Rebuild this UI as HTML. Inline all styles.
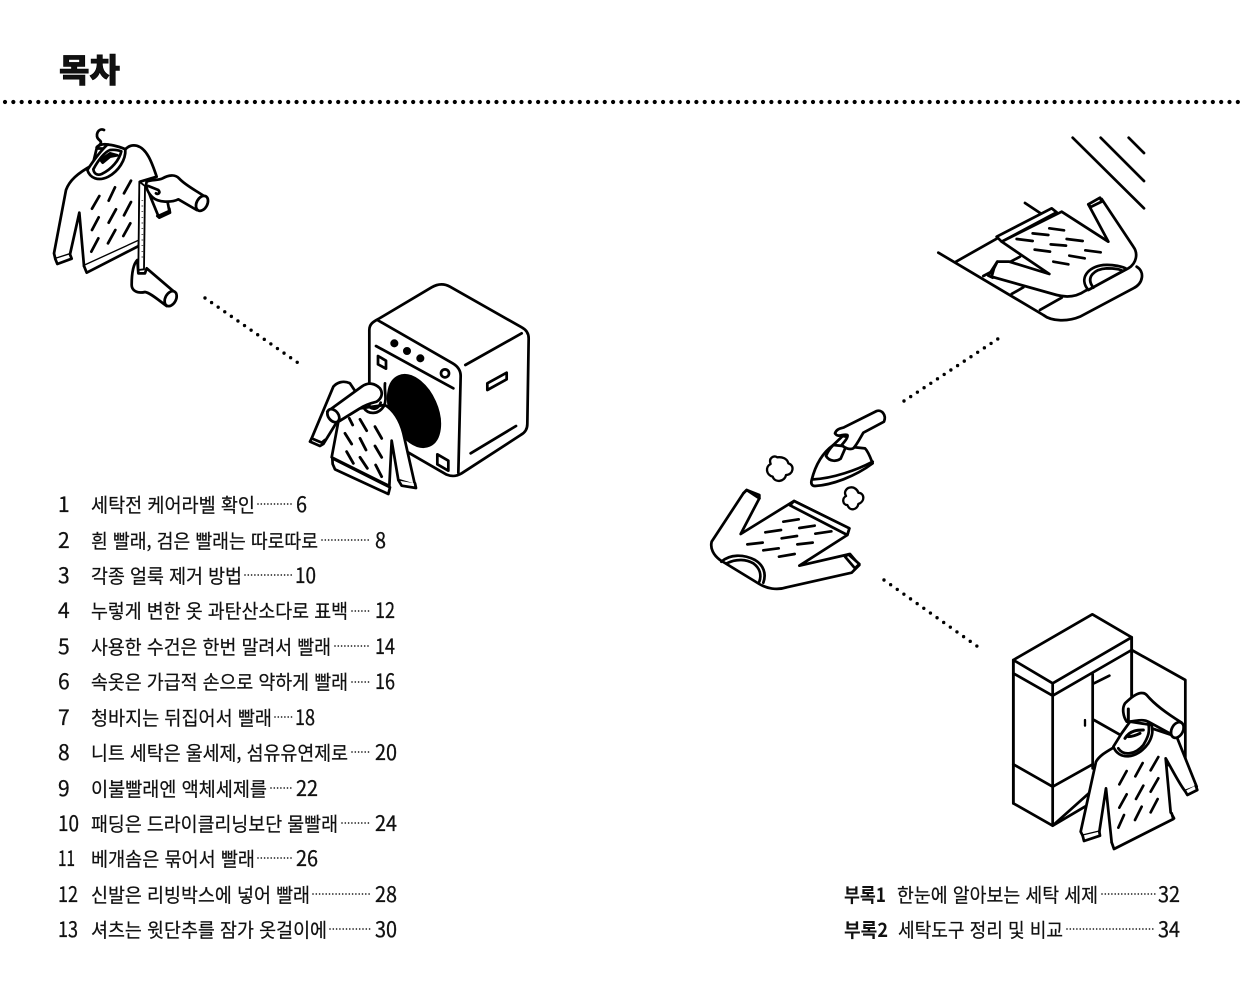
<!DOCTYPE html>
<html lang="ko"><head><meta charset="utf-8"><title>목차</title>
<style>
html,body{margin:0;padding:0;background:#fff}
svg{display:block}
text{fill:#111}
.t{font-family:"Noto Sans CJK KR","NanumGothic",sans-serif;font-size:19.5px;font-weight:400;stroke:#111;stroke-width:.22}
.n{font-family:"Noto Sans CJK KR","NanumGothic",sans-serif;font-size:21px;font-weight:400;stroke:#111;stroke-width:.3}
.b{font-family:"Noto Sans CJK KR","NanumGothic",sans-serif;font-size:19.5px;font-weight:700}
.l{stroke:#222;stroke-width:1.7;stroke-linecap:round;stroke-dasharray:0 3.3;fill:none}
.d{stroke:#000;stroke-linecap:round;fill:none}
.i{fill:none;stroke:#000;stroke-width:8.2;stroke-linejoin:round;stroke-linecap:round}
.w{fill:#fff}
.k{fill:#000}
</style></head><body>
<svg width="1240" height="998" viewBox="0 0 1240 998" xmlns="http://www.w3.org/2000/svg">
<rect width="1240" height="998" fill="#fff"/>
<text x="59" y="82" font-size="33" font-weight="900" textLength="61" lengthAdjust="spacingAndGlyphs" style="font-family:'Noto Sans CJK KR',sans-serif;font-weight:900;stroke:#000;stroke-width:.6">목차</text>
<line class="d" x1="5" y1="102" x2="1240" y2="102" stroke-width="4.2" stroke-dasharray="0 8.33"/>
<line class="d" x1="205" y1="298" x2="297.5" y2="362.5" stroke-width="3.4" stroke-dasharray="0 8.03"/>
<line class="d" x1="904" y1="401" x2="998.5" y2="338.5" stroke-width="3.4" stroke-dasharray="0 8.03"/>
<line class="d" x1="884" y1="580" x2="977.5" y2="646.5" stroke-width="3.4" stroke-dasharray="0 8.14"/>

<!-- 1: sweater + measuring hands -->
<g transform="translate(30 110) scale(.33333)" class="i">
<path d="M222 60C205 52 192 78 208 90C216 96 214 102 202 110"/>
<path class="w" d="M380 200C365 155 350 115 320 107C305 104 295 108 286 118L200 115L188 165C142 190 118 212 108 240L72 430L76 447L120 433L148 308L162 468L328 392L330 215Z"/>
<path d="M200 112C215 98 240 100 275 120"/>
<path class="w" d="M76 447L82 462L125 446L120 433"/>
<path class="w" d="M162 468L170 488L326 408L328 392"/>
<path class="w" d="M172 180C180 205 205 215 235 200C265 184 288 150 286 118C275 112 245 104 232 104C215 120 195 145 172 180Z"/>
<path d="M190 178C205 150 225 125 240 120C255 118 270 122 274 124C268 150 245 178 215 192C200 198 192 190 190 178Z"/>
<path class="k" d="M212 150L240 130L262 136L240 140L218 158Z"/>
<path d="M208 258L186 296M255 232L236 272M303 212L282 250M206 322L186 360M258 298L236 338M303 276L282 316M205 385L184 425M256 360L234 400M301 340L280 378"/>
<path class="w" d="M350 230L362 262L385 318L418 303L412 272"/>
<path d="M382 318L388 323L420 308L418 296"/>
<path class="w" d="M328 215L345 228L342 478L325 480Z" stroke-width="5.5"/>
<path d="M337 270V450" stroke-width="5" stroke-dasharray="2 15" stroke-linecap="butt"/>
<path class="w" d="M350 215C365 208 385 212 398 205C415 195 435 192 447 205C465 225 495 240 522 258L500 300L445 268C425 278 385 278 368 262C355 250 345 232 350 215Z"/>
<path d="M355 228L385 240C392 248 385 255 378 250"/>
<ellipse class="w" cx="516" cy="280" rx="16" ry="24" transform="rotate(28 516 280)"/>
<path class="w" d="M322 450C310 462 305 490 305 525C305 540 320 552 345 546C360 548 385 570 410 588L432 545L350 475L345 490L325 490Z"/>
<ellipse class="w" cx="422" cy="566" rx="16" ry="24" transform="rotate(28 422 566)"/>
</g>

<!-- 2: washing machine -->
<g transform="translate(290 270) scale(.33333)" class="i">
<path class="w" d="M238 180C238 162 250 155 265 147L425 52C445 40 462 40 480 50L695 172C710 180 716 190 716 205L712 462C712 478 705 488 692 495L515 610C498 620 485 620 470 614L238 480Z"/>
<path d="M262 150L488 280C505 290 512 302 512 318L505 608"/>
<path d="M526 285L695 190M258 228L490 355M542 550L678 468"/>
<circle class="k" cx="313" cy="220" r="8"/><circle class="k" cx="351" cy="243" r="8"/><circle class="k" cx="391" cy="265" r="8"/>
<circle cx="465" cy="310" r="12"/>
<path d="M264 258L288 272V296L264 283Z"/>
<path d="M592 340L650 308L650 328L592 360Z"/>
<path d="M442 553L475 572V602L442 583Z"/>
<ellipse class="k" cx="372" cy="423" rx="68" ry="113" transform="rotate(-24 372 423)"/>
</g>
<!-- sweater at washer: local coords -->
<g transform="translate(310 370) scale(.33333)" class="i">
<path class="w" d="M120 40C100 30 80 38 70 50L5 205L0 215L30 228L40 222L75 165L140 70Z"/>
<path d="M5 205L35 218L45 210"/>
<path class="w" d="M85 155L65 262L238 348L245 212L265 330L315 345L280 190C270 150 250 120 225 105L150 115Z"/>
<path class="w" d="M68 282L75 298L235 372L240 352L67 265Z"/>
<path class="w" d="M266 332L275 347L318 354L315 340"/>
<path d="M118 145L128 165M150 148L170 182M195 170L215 205M105 190L125 222M150 205L168 240M195 228L215 262M110 245L130 280M150 262L172 295M197 285L215 320" stroke-width="8.5"/>
<path class="w" d="M52 125L155 50C175 35 195 40 210 55C220 70 215 85 200 95C180 100 165 105 150 115L85 155Z"/>
<ellipse class="w" cx="70" cy="137" rx="15" ry="22" transform="rotate(-38 70 137)"/>
<path d="M160 112C175 135 205 135 222 108C232 85 222 65 225 40"/>
<path d="M180 112C195 122 208 112 212 98"/>
</g>

<!-- 3: sweater folded on ironing board -->
<g transform="translate(920 125) scale(.33333)" class="i">
<path d="M458 38L672 250M542 38L672 168M626 38L672 84"/>
<path d="M55 383L370 570C395 590 445 590 480 575L640 490C670 475 675 440 650 425"/>
<path d="M108 410L232 340M190 453L300 395M275 507L310 487M360 555L425 518"/>
<path d="M315 234L362 265"/>
<path class="w" d="M230 335L395 250L410 262L245 350Z"/>
<path class="w" d="M245 350L388 447L268 410L232 410L222 430L215 455L410 510C440 518 470 515 495 498L625 430C650 415 655 385 640 365L545 222L505 238L565 350L425 260L245 350Z"/>
<path class="w" d="M505 238L540 218L545 230L512 246Z"/>
<path d="M232 410L205 452L218 458"/>
<path d="M388 310L432 316M338 325L385 330M290 342L338 348M392 358L438 362M440 342L488 348M344 374L390 380M496 376L542 382M448 392L494 400M400 410L445 418"/>
<path class="w" d="M505 495C475 460 505 425 550 420C580 418 610 425 620 432L505 495Z"/>
<path d="M520 488C495 455 525 432 560 430C580 430 600 432 608 438"/>
</g>

<!-- 4: iron and sweater -->
<g transform="translate(700 400) scale(.33333)" class="i">
<path d="M232 172C220 165 205 175 212 192C195 200 198 225 218 230C225 250 255 245 258 225C280 225 285 195 265 190C262 175 245 170 232 172Z" stroke-width="7"/>
<path d="M455 262C440 262 430 275 438 288C425 295 428 315 442 315C450 335 472 330 475 312C495 305 495 280 475 278C472 268 462 262 455 262Z" stroke-width="7"/>
<path class="w" d="M335 240C345 200 365 160 400 135L495 145C505 155 512 175 518 190C465 230 395 255 345 258C335 258 332 250 335 240Z"/>
<path d="M340 238C400 235 470 210 518 185"/>
<path d="M378 168C388 184 408 186 422 176L450 112L428 108L400 135C390 145 383 155 378 168Z"/>
<path class="w" d="M405 100C410 85 425 85 432 82L530 33C545 28 560 45 552 65L490 98C480 115 470 135 460 145C450 150 435 145 425 135C438 120 445 110 442 105C430 100 415 115 405 100Z"/>
<path class="w" d="M130 280L35 425C30 445 40 465 60 480L178 552C200 565 230 572 260 562L455 518L478 495L450 462L298 497L442 405L448 385L282 303L122 402L178 295L140 270Z"/>
<path d="M130 280L140 270L178 285L178 295"/>
<path class="w" d="M282 303L448 385L442 405L270 316Z"/>
<path class="w" d="M445 463L478 492L465 505L435 470Z"/>
<path d="M250 365L296 358M298 384L344 377M196 397L243 390M346 401L394 394M245 415L291 408M142 433L188 428M292 433L338 428M190 451L236 445M237 470L284 462"/>
<path d="M64 485C90 462 130 462 165 480C190 495 200 520 190 548"/>
<path d="M80 490C110 475 140 478 160 490C180 505 185 525 178 545"/>
</g>

<!-- 5: wardrobe -->
<g transform="translate(1000 605) scale(.33333)" class="i">
<path class="w" d="M395 135L556 225V480L395 480Z"/>
<path class="w" d="M40 165L277 28L395 97V135L395 450L158 662L40 595Z"/>
<path d="M40 165L158 235L395 97M40 205L158 272L395 135M158 235V662M40 165V595M395 97V320M158 662L280 590"/>
<path d="M278 208V490M282 235L328 212"/>
<path d="M40 478L158 545L278 478"/>
<path class="k" d="M255 345V362" stroke-width="7"/>
<path d="M282 345L365 392"/>
<path class="w" d="M345 425C320 440 300 450 288 470L242 680L248 692L298 680L318 550L335 712L345 730L522 640L512 622L497 460C520 500 540 540 555 558L590 545L530 395L455 370L345 425Z"/>
<path class="w" d="M248 692L252 708L300 692L298 680"/>
<path class="w" d="M335 712L342 732L520 642L515 625"/>
<path class="w" d="M555 558L562 570L592 555L587 542"/>
<path d="M380 498L358 538M428 474L406 514M475 456L452 496M380 568L358 608M430 542L408 582M475 520L452 560M372 630L355 668M425 605L405 645M473 582L452 622" stroke-width="8"/>
<path class="w" d="M340 425C355 465 410 465 445 415C460 390 458 375 455 360L390 350L365 385Z"/>
<path d="M355 430C370 453 405 450 430 420C445 395 450 380 445 355"/>
<path d="M375 400C390 375 415 375 430 375" stroke-width="9"/>
<path d="M385 395C395 395 410 390 420 385" stroke-width="9"/>
<path class="w" d="M375 295C400 270 425 255 440 270C465 300 500 325 545 353L518 390L445 350C425 340 405 350 380 350C370 335 365 310 375 295Z"/>
<ellipse class="w" cx="532" cy="375" rx="17" ry="25" transform="rotate(28 532 375)"/>
<path class="k" d="M385 312V345" stroke-width="9"/>
</g>

<!-- list -->
<text class="n" x="58" y="512">1</text><text class="t" x="91" y="512" textLength="164" lengthAdjust="spacingAndGlyphs">세탁전 케어라벨 확인</text><line class="l" x1="258" y1="504" x2="292" y2="504"/><text class="n" x="296" y="512" textLength="11" lengthAdjust="spacingAndGlyphs">6</text>
<text class="n" x="58" y="548">2</text><text class="t" x="91" y="548" textLength="227" lengthAdjust="spacingAndGlyphs">흰 빨래, 검은 빨래는 따로따로</text><line class="l" x1="322" y1="540" x2="371" y2="540"/><text class="n" x="375" y="548" textLength="11" lengthAdjust="spacingAndGlyphs">8</text>
<text class="n" x="58" y="583">3</text><text class="t" x="91" y="583" textLength="151" lengthAdjust="spacingAndGlyphs">각종 얼룩 제거 방법</text><line class="l" x1="245" y1="575" x2="292" y2="575"/><text class="n" x="295" y="583" textLength="21" lengthAdjust="spacingAndGlyphs">10</text>
<text class="n" x="58" y="618">4</text><text class="t" x="91" y="618" textLength="257" lengthAdjust="spacingAndGlyphs">누렇게 변한 옷 과탄산소다로 표백</text><line class="l" x1="352" y1="611" x2="371" y2="611"/><text class="n" x="375" y="618" textLength="20" lengthAdjust="spacingAndGlyphs">12</text>
<text class="n" x="58" y="654">5</text><text class="t" x="91" y="654" textLength="240" lengthAdjust="spacingAndGlyphs">사용한 수건은 한번 말려서 빨래</text><line class="l" x1="335" y1="646" x2="371" y2="646"/><text class="n" x="375" y="654" textLength="20" lengthAdjust="spacingAndGlyphs">14</text>
<text class="n" x="58" y="689">6</text><text class="t" x="91" y="689" textLength="257" lengthAdjust="spacingAndGlyphs">속옷은 가급적 손으로 약하게 빨래</text><line class="l" x1="352" y1="682" x2="371" y2="682"/><text class="n" x="375" y="689" textLength="20" lengthAdjust="spacingAndGlyphs">16</text>
<text class="n" x="58" y="725">7</text><text class="t" x="91" y="725" textLength="181" lengthAdjust="spacingAndGlyphs">청바지는 뒤집어서 빨래</text><line class="l" x1="275" y1="717" x2="292" y2="717"/><text class="n" x="295" y="725" textLength="20" lengthAdjust="spacingAndGlyphs">18</text>
<text class="n" x="58" y="760">8</text><text class="t" x="91" y="760" textLength="257" lengthAdjust="spacingAndGlyphs">니트 세탁은 울세제, 섬유유연제로</text><line class="l" x1="352" y1="752" x2="371" y2="752"/><text class="n" x="375" y="760" textLength="22" lengthAdjust="spacingAndGlyphs">20</text>
<text class="n" x="58" y="796">9</text><text class="t" x="91" y="796" textLength="176" lengthAdjust="spacingAndGlyphs">이불빨래엔 액체세제를</text><line class="l" x1="271" y1="788" x2="292" y2="788"/><text class="n" x="296" y="796" textLength="22" lengthAdjust="spacingAndGlyphs">22</text>
<text class="n" x="58" y="831" textLength="21" lengthAdjust="spacingAndGlyphs">10</text><text class="t" x="91" y="831" textLength="247" lengthAdjust="spacingAndGlyphs">패딩은 드라이클리닝보단 물빨래</text><line class="l" x1="342" y1="823" x2="371" y2="823"/><text class="n" x="375" y="831" textLength="22" lengthAdjust="spacingAndGlyphs">24</text>
<text class="n" x="58" y="866" textLength="17" lengthAdjust="spacingAndGlyphs">11</text><text class="t" x="91" y="866" textLength="164" lengthAdjust="spacingAndGlyphs">베개솜은 묶어서 빨래</text><line class="l" x1="258" y1="858" x2="292" y2="858"/><text class="n" x="296" y="866" textLength="22" lengthAdjust="spacingAndGlyphs">26</text>
<text class="n" x="58" y="902" textLength="20" lengthAdjust="spacingAndGlyphs">12</text><text class="t" x="91" y="902" textLength="219" lengthAdjust="spacingAndGlyphs">신발은 리빙박스에 넣어 빨래</text><line class="l" x1="313" y1="894" x2="371" y2="894"/><text class="n" x="375" y="902" textLength="22" lengthAdjust="spacingAndGlyphs">28</text>
<text class="n" x="58" y="937" textLength="20" lengthAdjust="spacingAndGlyphs">13</text><text class="t" x="91" y="937" textLength="236" lengthAdjust="spacingAndGlyphs">셔츠는 윗단추를 잠가 옷걸이에</text><line class="l" x1="330" y1="929" x2="371" y2="929"/><text class="n" x="375" y="937" textLength="22" lengthAdjust="spacingAndGlyphs">30</text>

<text class="b" x="844" y="902" textLength="42" lengthAdjust="spacingAndGlyphs">부록1</text><text class="t" x="897" y="902" textLength="201" lengthAdjust="spacingAndGlyphs">한눈에 알아보는 세탁 세제</text><line class="l" x1="1102" y1="894" x2="1155" y2="894"/><text class="n" x="1158" y="902" textLength="22" lengthAdjust="spacingAndGlyphs">32</text>
<text class="b" x="844" y="937" textLength="44" lengthAdjust="spacingAndGlyphs">부록2</text><text class="t" x="898" y="937" textLength="165" lengthAdjust="spacingAndGlyphs">세탁도구 정리 및 비교</text><line class="l" x1="1067" y1="929" x2="1155" y2="929"/><text class="n" x="1158" y="937" textLength="22" lengthAdjust="spacingAndGlyphs">34</text>
</svg>
</body></html>
